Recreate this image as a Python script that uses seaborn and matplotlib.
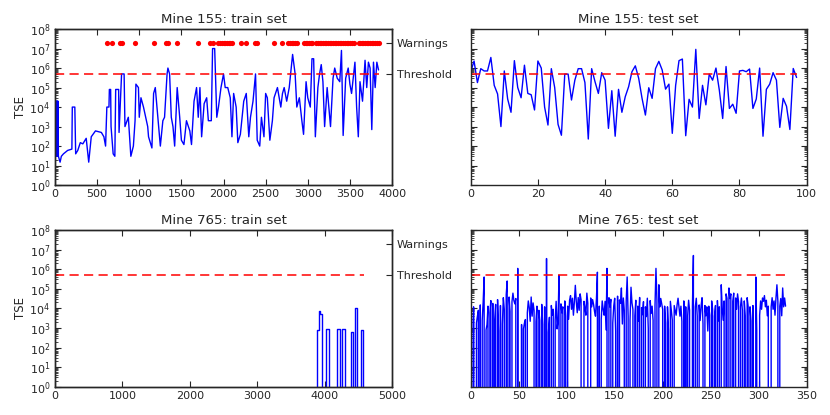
import matplotlib
matplotlib.use('Agg')
import matplotlib.pyplot as plt
import matplotlib.ticker as mticker
import numpy as np
import pandas as pd
import seaborn as sns

# Levels shared by every panel
threshold = 5e5
warning_level = 2e7

# Mine 155, train set (breakpoints)
train155_x = [0, 3, 6, 9, 12, 15, 18, 21, 24, 27, 30, 33, 36, 40,
              60, 75, 100, 150, 200, 205, 235, 245, 270, 300, 330, 370, 400, 430, 480,
              550, 580, 600, 615, 640, 645, 660, 665, 690, 710, 720, 755, 760, 790, 820,
              830, 870, 900, 930, 950, 960, 990, 1000, 1020, 1050, 1100, 1110, 1150, 1170,
              1190, 1220, 1250, 1280, 1300, 1330, 1340, 1360, 1380, 1400, 1420, 1450, 1480,
              1500, 1530, 1560, 1600, 1620, 1650, 1680, 1700, 1720, 1740, 1770, 1800, 1820,
              1855, 1870, 1895, 1920, 1940, 1970, 2000, 2020, 2050, 2080, 2100, 2120, 2150,
              2170, 2200, 2240, 2270, 2300, 2320, 2350, 2380, 2400, 2430, 2450, 2480, 2500,
              2520, 2550, 2580, 2600, 2640, 2680, 2700, 2720, 2750, 2780, 2820, 2850, 2870,
              2900, 2930, 2950, 2980, 3000, 3030, 3050, 3070, 3090, 3120, 3140, 3160, 3180,
              3200, 3230, 3250, 3270, 3300, 3320, 3350, 3380, 3400, 3420, 3450, 3480, 3500,
              3520, 3560, 3580, 3600, 3620, 3650, 3680, 3700, 3720, 3740, 3760, 3780, 3800,
              3820, 3840]
train155_tse = [2e4, 40, 2e4, 30, 2e4, 50, 2e4, 30, 2e4, 40, 2e4, 30, 2e4, 30,
                15, 30, 40, 60, 70, 1e4, 1e4, 40, 60, 150, 130, 250, 15, 300, 600,
                500, 300, 100, 1e4, 1e4, 8e4, 8e4, 1e3, 40, 30, 8e4, 8e4, 500, 5e5, 5e5,
                1e3, 3e3, 30, 100, 2e3, 1.5e5, 1e5, 3e3, 3e4, 1e4, 1e3, 300, 80, 5e4,
                1e5, 3e3, 100, 2e3, 3e3, 5e5, 1e6, 5e5, 3e3, 1e3, 100, 1e5, 3e3,
                200, 120, 2e3, 600, 120, 2e4, 1e5, 3e3, 1e5, 300, 1.5e4, 3e4, 2e3,
                2e3, 1e7, 1e7, 3e3, 1e4, 1e5, 5e5, 1e5, 1e5, 3e4, 300, 5e4, 1e4,
                150, 400, 2e4, 5e4, 300, 3e3, 2e4, 5e5, 200, 100, 3e3, 300, 5e4,
                3e4, 200, 2e3, 3e4, 1e5, 1e4, 5e4, 1e5, 2e4, 1e5, 5e6, 5e5, 1e4,
                3e4, 2e3, 400, 2e5, 3e4, 1e4, 3e6, 3e6, 300, 1e5, 5e5, 1.5e6, 2e5,
                1e3, 1e5, 1e4, 1e3, 3e5, 1e6, 3e5, 2e5, 8e6, 350, 3e5, 1e6, 1.5e5,
                5e4, 2e6, 1e4, 300, 2e5, 2e4, 2.5e6, 1e5, 2e6, 1e6, 700, 2e6, 1e5,
                2e6, 8e5]
warn155_x = [615, 675, 766, 794, 944, 1171, 1313, 1341, 1452, 1698, 1845, 1877,
             1940, 1960, 1980, 2000, 2020, 2040, 2060, 2075, 2103, 2202, 2266, 2373, 2393,
             2599, 2698, 2770, 2790, 2810, 2830, 2850, 2869, 2956, 2975, 2995, 3015, 3035,
             3048, 3100, 3120, 3140, 3160, 3180, 3200, 3220, 3240, 3260, 3280, 3300, 3320,
             3340, 3360, 3380, 3400, 3420, 3440, 3460, 3480, 3500, 3520, 3544, 3603, 3620,
             3640, 3660, 3680, 3700, 3720, 3740, 3760, 3780, 3800, 3820, 3841]

# Mine 155, test set
test155_tse = [6.5e5, 2.3e6, 1.8e5, 9.3e5, 7.1e5, 7.1e5, 3.5e6, 1.3e5, 4.7e4, 1e3,
               7.1e5, 2.6e4, 5.4e3, 2.4e6, 1e5, 3e4, 1.4e6, 5e4, 4.3e4, 7.1e3,
               2.3e6, 1e6, 1e4, 1.2e3, 9.3e5, 1e5, 1.3e3, 360, 4.9e5, 4.9e5,
               2.3e4, 2.4e5, 9.3e5, 9.3e5, 1.8e5, 230, 9.3e5, 2e5, 5e4, 5.8e5,
               2.4e5, 810, 6.9e4, 320, 8.1e4, 5.4e3, 3.4e4, 1.1e5, 6.5e5, 1.3e6,
               3e5, 2.8e4, 3.9e3, 9.8e4, 2.8e4, 9.3e5, 2.2e6, 7.9e5, 8.3e4, 1.5e5,
               450, 1.3e5, 2.4e6, 2.9e6, 340, 2.5e4, 1e4, 9.1e6, 2.6e3, 1.3e5,
               1.3e4, 4.9e5, 2.4e5, 1e6, 7.4e4, 2.6e3, 1.2e6, 8.5e3, 1.4e4, 4.8e3,
               7.1e5, 7.6e5, 6.5e5, 8.9e5, 8.5e3, 2.6e4, 1e6, 320, 8.1e4, 1.5e5,
               5.8e5, 2.4e5, 910, 2.8e4, 1.1e4, 710, 9.5e5, 3.3e5]

# Mine 765, train set (step breakpoints)
train765_x = [0, 3880, 3910, 3935, 3965, 4025, 4060, 4190, 4222, 4265, 4297,
              4390, 4416, 4444, 4480, 4544, 4575, 4580]
train765_tse = [0, 800, 7e3, 5e3, 0, 900, 0, 900, 0, 900, 0,
                600, 0, 1e4, 0, 800, 0, 0]

# Mine 765, test set
test765_tse = [6e4, 2.5e3, 0, 1.2e4, 0, 0, 1.8e3, 4e3, 8e3, 0,
               1.5e4, 0, 2.5e3, 2.2e4, 4e5, 0, 800, 1.5e3, 1.3e4, 0,
               6e3, 2.5e4, 0, 1.8e4, 0, 2.5e3, 1.6e4, 0, 2.8e4, 700,
               0, 1.4e4, 0, 1.6e3, 3.5e4, 9e3, 0, 5e4, 2.5e5, 0,
               3.8e4, 7e3, 0, 2.2e4, 6e4, 2.5e4, 1.7e4, 3.2e4, 0, 1.1e6,
               0, 0, 0, 1.5e3, 0, 900, 1.8e3, 2.7e3, 0, 6e3,
               2.4e4, 1.1e4, 2.2e3, 3.8e4, 4e3, 1.9e4, 8e3, 0, 2.1e3, 1.3e4,
               0, 8e3, 2.4e3, 0, 1.6e4, 1.5e3, 0, 1.2e4, 0, 3.5e6,
               0, 600, 3.5e3, 0, 1.4e4, 4.5e3, 9e3, 0, 2.6e3, 2.3e4,
               900, 2.5e3, 5e5, 0, 1.7e4, 6e3, 1.2e4, 0, 2.4e4, 4e3,
               0, 1.3e4, 2.8e3, 2.6e4, 4.5e4, 9e3, 3.3e4, 4.5e3, 2.1e4, 1.5e5,
               2.2e4, 6e3, 3.6e4, 8e3, 5.5e4, 2.7e4, 0, 0, 2.3e4, 1.1e4,
               4.5e3, 6e4, 1.8e4, 0, 0, 3.4e4, 1.2e4, 2.8e4, 1.6e4, 7e3,
               4e3, 3.1e4, 7e5, 0, 1.3e4, 0, 2.8e3, 2.4e4, 9e3, 4.5e3,
               2.3e4, 800, 1.1e6, 0, 3.5e4, 1.2e4, 2.9e4, 0, 1.8e3, 1.3e4,
               3.3e4, 700, 0, 4.2e4, 0, 2.7e4, 1.8e4, 1.1e5, 1.6e3, 3.4e4,
               8e3, 0, 2.4e4, 4e5, 4e3, 0, 2.6e3, 1.2e5, 1.9e4, 9e3,
               0, 4.2e3, 2.6e4, 0, 1.3e4, 2.2e3, 3.6e4, 0, 1.1e4, 4.8e3,
               2.2e4, 0, 1.2e4, 3.8e3, 3.3e4, 900, 0, 2.5e4, 5.5e3, 1.3e4,
               2.5e3, 0, 1.4e4, 1.1e6, 2.6e4, 0, 1.6e5, 1.2e4, 3.2e4, 1.7e4,
               9e3, 0, 1.3e4, 1.8e3, 0, 1.2e4, 800, 0, 2.3e4, 8e3,
               2.6e3, 0, 1.4e4, 8e3, 4.5e3, 1.5e4, 3.3e4, 1.1e4, 4e3, 1.3e4,
               2.2e3, 0, 2.4e4, 0, 1.2e4, 0, 4.2e3, 2.6e4, 8e3, 0,
               0, 1.3e4, 5e6, 0, 1.2e4, 3.3e4, 4e3, 0, 1.5e4, 2.4e3,
               1.3e4, 3.5e4, 1.6e3, 0, 1.4e4, 4.2e3, 1.2e4, 700, 1.3e4, 4.5e3,
               0, 2.4e4, 9e3, 0, 4e3, 1.4e4, 0, 2.5e4, 2.3e3, 1.2e4,
               0, 1.6e5, 1.1e4, 2.5e3, 2.4e4, 0, 5.5e4, 3.3e4, 0, 1.1e5,
               3.2e4, 5.5e4, 0, 2.3e4, 6e4, 0, 3.4e4, 9e3, 5.5e4, 2.2e4,
               0, 1.2e4, 3.4e4, 8e3, 0, 2.4e4, 4.2e3, 0, 3.5e4, 1.3e4,
               0, 1.2e4, 2.3e3, 0, 1.4e4, 0, 0, 4e5, 800, 0,
               0, 4.5e3, 2.4e4, 9e3, 3.4e4, 2.3e4, 4.5e4, 1.2e4, 2.6e4, 4.2e3,
               1.3e4, 0, 0, 1.2e4, 3.5e4, 9e3, 2.4e4, 4.5e3, 3.3e4, 1.6e5,
               2.3e4, 0, 1.3e4, 3.2e4, 4.2e3, 1.1e5, 1.2e4, 3.4e4, 1.3e4]

sns.set_style("ticks", {"xtick.direction": "in", "ytick.direction": "in"})
plt.rcParams.update({
    "font.family": ["DejaVu Sans"],
    "xtick.top": True,
    "ytick.right": True,
    "xtick.labelsize": 8,
    "ytick.labelsize": 8,
    "axes.linewidth": 1.0,
    "xtick.major.size": 4,
    "ytick.major.size": 4,
    "ytick.minor.size": 2,
    "xtick.major.width": 0.8,
    "ytick.major.width": 0.8,
    "ytick.minor.width": 0.6,
})

fig = plt.figure(figsize=(8.3, 4.15), dpi=100)
ax_tl = fig.add_axes([0.0663, 0.554, 0.406, 0.376])
ax_tr = fig.add_axes([0.5671, 0.554, 0.4048, 0.376])
ax_bl = fig.add_axes([0.0663, 0.068, 0.406, 0.3778])
ax_br = fig.add_axes([0.5671, 0.068, 0.4048, 0.3778])


def draw_panel(ax, x, y, title, xmax, xstep, left, steps=False):
    df = pd.DataFrame({"x": x, "tse": y})
    kw = {"drawstyle": "steps-post"} if steps else {}
    sns.lineplot(data=df, x="x", y="tse", ax=ax, color="#0000ff", lw=1.0,
                 estimator=None, sort=False, **kw)
    thr = pd.DataFrame({"x": [x[0], x[-1]], "tse": [threshold, threshold]})
    sns.lineplot(data=thr, x="x", y="tse", ax=ax, color="red", lw=1.1,
                 dashes=False, linestyle=(0, (6, 3.5)))
    ax.set_yscale("log", nonpositive="clip")
    ax.set_ylim(1, 1e8)
    ax.set_xlim(0, xmax)
    ax.set_xticks(np.arange(0, xmax + 1, xstep))
    ax.yaxis.set_major_locator(mticker.FixedLocator(10.0 ** np.arange(0, 9)))
    ax.yaxis.set_minor_locator(mticker.LogLocator(base=10, subs=np.arange(2, 10), numticks=20))
    ax.set_title(title, fontsize=9.5, pad=4)
    ax.set_xlabel("")
    if left:
        ax.set_ylabel("TSE", fontsize=8.5, labelpad=2)
        ax.tick_params(axis="y", which="both", right=False)
        tw = ax.twinx()
        tw.set_yscale("log")
        tw.set_ylim(1, 1e8)
        tw.yaxis.set_major_locator(mticker.FixedLocator([threshold, warning_level]))
        tw.yaxis.set_minor_locator(mticker.NullLocator())
        tw.set_yticklabels(["Threshold", "Warnings"])
        tw.tick_params(axis="y", direction="in", length=4, labelsize=8)
    else:
        ax.set_ylabel("")
        ax.tick_params(axis="y", which="both", labelleft=False)
    ax.tick_params(axis="x", pad=3)


draw_panel(ax_tl, train155_x, train155_tse, "Mine 155: train set", 4000, 500, True)
warn = pd.DataFrame({"x": warn155_x, "tse": [warning_level] * len(warn155_x)})
sns.scatterplot(data=warn, x="x", y="tse", ax=ax_tl, color="red", s=14,
                edgecolor="red", linewidth=0, zorder=3)
ax_tl.set_xlabel("")
ax_tl.set_ylabel("TSE", fontsize=8.5, labelpad=2)

draw_panel(ax_tr, list(range(len(test155_tse))), test155_tse, "Mine 155: test set", 100, 20, False)
draw_panel(ax_bl, train765_x, train765_tse, "Mine 765: train set", 5000, 1000, True, steps=True)
draw_panel(ax_br, list(range(len(test765_tse))), test765_tse, "Mine 765: test set", 350, 50, False)

fig.savefig("out.png", dpi=100)
